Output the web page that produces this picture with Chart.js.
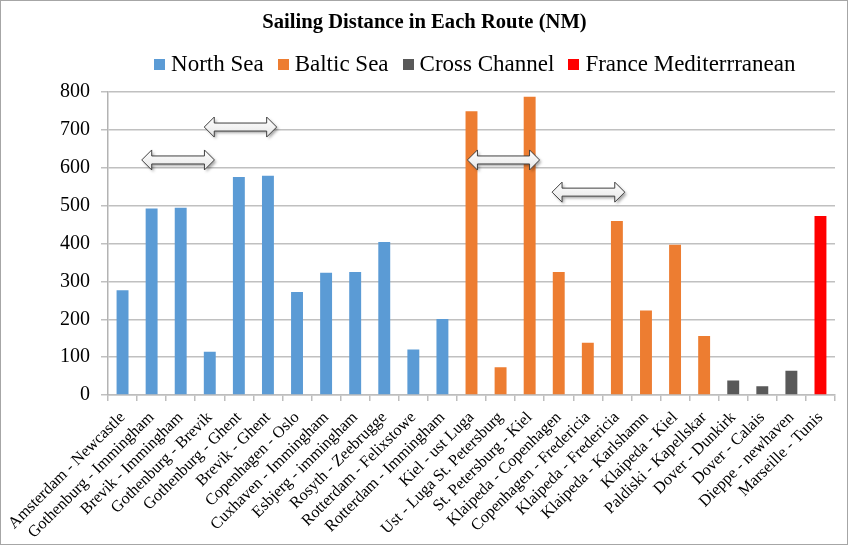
<!DOCTYPE html>
<html>
<head>
<meta charset="utf-8">
<script src="https://cdn.jsdelivr.net/npm/chart.js@4/dist/chart.umd.min.js"></script>
<style>
html,body{margin:0;padding:0;background:#fff;}
canvas{display:block;}
</style>
</head>
<body>
<canvas id="c" width="848" height="545"></canvas>
<script>
// ---- data ----
const routes = [
  "Amsterdam - Newcastle","Gothenburg - Immingham","Brevik - Immingham","Gothenburg - Brevik",
  "Gothenburg - Ghent","Brevik - Ghent","Copenhagen - Oslo","Cuxhaven - Immingham",
  "Esbjerg - immingham","Rosyth - Zeebrugge","Rotterdam - Felixstowe","Rotterdam - Immingham",
  "Kiel - ust Luga","Ust - Luga St. Petersburg","St. Petersburg - Kiel","Klaipeda - Copenhagen",
  "Copenhagen - Fredericia","Klaipeda - Fredericia","Klaipeda - Karlshamn","Klaipeda - Kiel",
  "Paldiski - Kapellskar","Dover - Dunkirk","Dover - Calais","Dieppe - newhaven","Marseille - Tunis"
];
const distances = [277,493,495,114,576,579,272,323,325,404,120,201,
  750,73,788,325,138,460,223,397,156,38,23,64,473];
const regionOf = [0,0,0,0,0,0,0,0,0,0,0,0, 1,1,1,1,1,1,1,1,1, 2,2,2, 3];
const regionNames = ["North Sea","Baltic Sea","Cross Channel","France Mediterrranean"];
const regionColors = ["#5b9bd5","#ed7d31","#595959","#ff0000"];
const yTicks = [0,100,200,300,400,500,600,700,800];
// double arrows: [start category position, end category position, value level]
const arrowStarts = [0.66, 2.81, 11.86, 14.77];
const arrowEnds   = [3.16, 5.30, 14.34, 17.27];
const arrowLevels = [621, 708, 621, 536];

const SERIF = "'Liberation Serif','Times New Roman',serif";

const datasets = regionNames.map((name, r) => ({
  label: name,
  data: distances.map((v, i) => regionOf[i] === r ? v : null),
  backgroundColor: regionColors[r],
  borderWidth: 0,
  grouped: false,
  barPercentage: 0.41,
  categoryPercentage: 1.0
}));

// legend square markers
const BOX = 11;
const boxCanvases = regionColors.map(c => {
  const cv = document.createElement('canvas');
  cv.width = BOX; cv.height = BOX;
  const g = cv.getContext('2d');
  g.fillStyle = c; g.fillRect(0, 0, BOX, BOX);
  return cv;
});

const LEGEND_DX = 58, LEGEND_DY = -6, TITLE_DX = 5;

const framePlugin = {
  id: 'frame',
  beforeDraw(chart) {
    const ctx = chart.ctx;
    ctx.save();
    ctx.fillStyle = '#fff';
    ctx.fillRect(0, 0, chart.width, chart.height);
    ctx.restore();
  },
  afterLayout(chart) {
    const lg = chart.legend;
    if (lg) {
      lg.left += LEGEND_DX; lg.right += LEGEND_DX;
      lg.top += LEGEND_DY; lg.bottom += LEGEND_DY;
    }
    const tb = chart.titleBlock;
    if (tb) { tb.left += TITLE_DX; tb.right += TITLE_DX; }
  },
  afterDraw(chart) {
    const ctx = chart.ctx;
    ctx.save();
    ctx.strokeStyle = '#a6a6a6';
    ctx.lineWidth = 1;
    ctx.strokeRect(0.5, 0.5, chart.width - 1, chart.height - 1);
    ctx.restore();
  }
};

const arrowPlugin = {
  id: 'arrows',
  afterDatasetsDraw(chart) {
    const ctx = chart.ctx, xs = chart.scales.x, ys = chart.scales.y;
    const H = 20, h = 8, hl = 10;
    for (let k = 0; k < arrowStarts.length; k++) {
      const x1 = xs.getPixelForValue(arrowStarts[k]);
      const x2 = xs.getPixelForValue(arrowEnds[k]);
      const y = ys.getPixelForValue(arrowLevels[k]);
      ctx.save();
      ctx.beginPath();
      ctx.moveTo(x1, y);
      ctx.lineTo(x1 + hl, y - H / 2);
      ctx.lineTo(x1 + hl, y - h / 2);
      ctx.lineTo(x2 - hl, y - h / 2);
      ctx.lineTo(x2 - hl, y - H / 2);
      ctx.lineTo(x2, y);
      ctx.lineTo(x2 - hl, y + H / 2);
      ctx.lineTo(x2 - hl, y + h / 2);
      ctx.lineTo(x1 + hl, y + h / 2);
      ctx.lineTo(x1 + hl, y + H / 2);
      ctx.closePath();
      const g = ctx.createLinearGradient(0, y - H / 2, 0, y + H / 2);
      g.addColorStop(0, '#ffffff');
      g.addColorStop(1, '#e6e6e6');
      ctx.shadowColor = 'rgba(0,0,0,0.35)';
      ctx.shadowBlur = 3;
      ctx.shadowOffsetX = 2;
      ctx.shadowOffsetY = 2;
      ctx.fillStyle = g;
      ctx.fill();
      ctx.shadowColor = 'transparent';
      ctx.strokeStyle = '#404040';
      ctx.lineWidth = 1;
      ctx.stroke();
      ctx.restore();
    }
  }
};

new Chart(document.getElementById('c'), {
  type: 'bar',
  data: { labels: routes, datasets },
  options: {
    responsive: false,
    animation: false,
    devicePixelRatio: 1,
    layout: { padding: { left: 4, right: 13, top: 6, bottom: 0 } },
    plugins: {
      title: {
        display: true,
        text: 'Sailing Distance in Each Route (NM)',
        color: '#000',
        font: { family: SERIF, size: 20.6, weight: 'bold' },
        padding: { top: 4, bottom: 5 }
      },
      legend: {
        display: true,
        labels: {
          color: '#000',
          font: { family: SERIF, size: 23 },
          usePointStyle: true,
          pointStyleWidth: 0.01,
          boxHeight: BOX,
          padding: 19.5,
          generateLabels(chart) {
            const items = Chart.defaults.plugins.legend.labels.generateLabels(chart);
            items.forEach((it, i) => { it.pointStyle = boxCanvases[i]; });
            return items;
          }
        }
      },
      tooltip: { enabled: false }
    },
    scales: {
      x: {
        afterFit(s) { s.height = 150; s.paddingLeft = 0; s.paddingRight = 0; },
        ticks: {
          color: '#000',
          font: { family: SERIF, size: 16.3 },
          autoSkip: false,
          maxRotation: 45,
          minRotation: 45,
          padding: 7
        },
        grid: { drawOnChartArea: false, drawTicks: true, tickLength: 6, color: '#bdbdbd', lineWidth: 1.5, offset: true },
        border: { display: true, color: '#bdbdbd', width: 1.5 }
      },
      y: {
        min: 0,
        max: 800,
        afterFit(s) { s.width = 104; },
        afterBuildTicks(s) { s.ticks = yTicks.map(v => ({ value: v })); },
        ticks: {
          color: '#000',
          font: { family: SERIF, size: 20 },
          padding: 11
        },
        grid: { color: '#c0c0c0', lineWidth: 1.5, tickLength: 7 },
        border: { display: true, color: '#b3b3b3', width: 1.5 }
      }
    }
  },
  plugins: [framePlugin, arrowPlugin]
});
</script>
</body>
</html>
